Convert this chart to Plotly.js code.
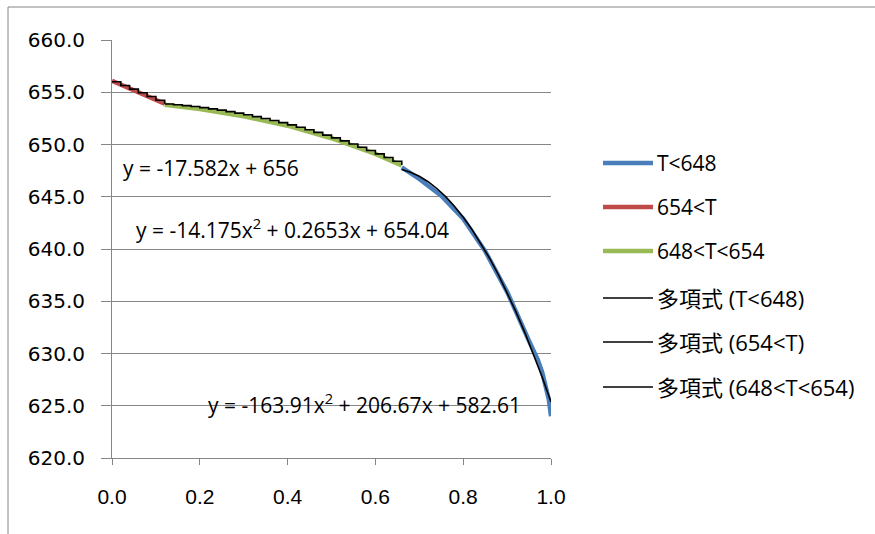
<!DOCTYPE html>
<html>
<head>
<meta charset="utf-8">
<script src="https://cdn.plot.ly/plotly-3.0.1.min.js"></script>
<style>
  html, body { margin: 0; padding: 0; background: #fff; }
  #chart { width: 875px; height: 534px; }
</style>
</head>
<body>
<div id="chart"></div>
<script>
// Measured series (normalised position vs. temperature)
const redX   = [0.00, 0.04, 0.08, 0.12];
const redY   = [656.1, 655.4, 654.6, 653.9];
const greenX = [0.12, 0.20, 0.30, 0.40, 0.50, 0.60, 0.66];
const greenY = [653.8, 653.4, 652.7, 651.8, 650.6, 649.1, 648.0];
const blueX  = [0.66, 0.70, 0.75, 0.80, 0.85, 0.90, 0.95, 0.97, 0.98, 0.99, 0.995, 1.00];
const blueY  = [647.8, 646.7, 645.1, 642.9, 639.8, 635.9, 631.2, 629.4, 628.2, 626.7, 625.6, 624.0];

// Polynomial trend lines
const trendRedX   = [0.00, 0.02, 0.04, 0.06, 0.08, 0.10, 0.12];
const trendRedY   = [656.00, 655.65, 655.30, 654.95, 654.59, 654.24, 653.89];
const trendGreenX = [0.12, 0.14, 0.16, 0.18, 0.20, 0.22, 0.24, 0.26, 0.28, 0.30, 0.32, 0.34, 0.36, 0.38,
                     0.40, 0.42, 0.44, 0.46, 0.48, 0.50, 0.52, 0.54, 0.56, 0.58, 0.60, 0.62, 0.64, 0.66];
const trendGreenY = [653.87, 653.80, 653.72, 653.63, 653.53, 653.41, 653.29, 653.15, 653.00, 652.84,
                     652.67, 652.49, 652.30, 652.09, 651.88, 651.65, 651.41, 651.16, 650.90, 650.63,
                     650.35, 650.05, 649.74, 649.43, 649.10, 648.76, 648.40, 648.04];
const trendBlueX  = [0.66, 0.68, 0.70, 0.72, 0.74, 0.76, 0.78, 0.80, 0.82, 0.84, 0.86, 0.88,
                     0.90, 0.92, 0.94, 0.96, 0.98, 1.00];
const trendBlueY  = [647.61, 647.35, 646.96, 646.44, 645.79, 645.01, 644.09, 643.04, 641.87, 640.56,
                     639.12, 637.55, 635.85, 634.01, 632.05, 629.95, 627.73, 625.37];

const seriesNames = ['T<648', '654<T', '648<T<654',
                     '多項式 (T<648)', '多項式 (654<T)', '多項式 (648<T<654)'];
const seriesColors = ['#4A7EBB', '#BE4B48', '#98B954', '#000000', '#000000', '#000000'];
const equations = ['y = -17.582x + 656',
                   'y = -14.175x<sup>2</sup> + 0.2653x + 654.04',
                   'y = -163.91x<sup>2</sup> + 206.67x + 582.61'];

// plot-area geometry in pixels
const W = 875, H = 534;
const PL = 112, PR = 551, PT = 40, PB = 458;
const px = v => (v - PL) / (PR - PL);
const py = v => (PB - v) / (PB - PT);

const thick = (x, y, i) => ({x, y, type: 'scatter', mode: 'lines', name: seriesNames[i],
  line: {color: seriesColors[i], width: 4.5}, showlegend: false, hoverinfo: 'skip'});
const thin = (x, y, i, shape) => ({x, y, type: 'scatter', mode: 'lines', name: seriesNames[i],
  line: {color: seriesColors[i], width: 1.6, shape}, showlegend: false, hoverinfo: 'skip'});

const data = [
  thick(blueX, blueY, 0),
  thick(redX, redY, 1),
  thick(greenX, greenY, 2),
  thin(trendBlueX, trendBlueY, 3, 'linear'),
  thin(trendRedX, trendRedY, 4, 'hv'),
  thin(trendGreenX, trendGreenY, 5, 'hv')
];

const fontFamily = '"Open Sans", "Noto Sans CJK TC", sans-serif';
const eqFont = {family: fontFamily, size: 21, color: '#000'};
const rowsY = [163, 207, 251, 298, 342, 387];

const shapes = [
  // chart frame
  {type: 'line', xref: 'paper', yref: 'paper', x0: px(8), x1: px(8), y0: py(7), y1: py(534),
   line: {color: '#868686', width: 1}},
  {type: 'line', xref: 'paper', yref: 'paper', x0: px(8), x1: px(875), y0: py(7), y1: py(7),
   line: {color: '#868686', width: 1}}
];
const annotations = [];
rowsY.forEach((yy, i) => {
  shapes.push({type: 'line', xref: 'paper', yref: 'paper', x0: px(603), x1: px(653),
    y0: py(yy), y1: py(yy),
    line: {color: seriesColors[i], width: i < 3 ? 4.5 : 1.6}});
  annotations.push({xref: 'paper', yref: 'paper', x: px(655), y: py(yy), xanchor: 'left',
    yanchor: 'middle', text: seriesNames[i], showarrow: false,
    font: {family: fontFamily, size: i < 3 ? 21 : 22, color: '#000'}});
});
[[0.021, 647.75], [0.05, 642.0], [0.213, 625.2]].forEach((p, i) => {
  annotations.push({xref: 'x', yref: 'y', x: p[0], y: p[1], xanchor: 'left', yanchor: 'middle',
    text: equations[i], showarrow: false, font: eqFont});
});

const layout = {
  width: W, height: H,
  margin: {l: PL, r: W - PR, t: PT, b: H - PB, pad: 0},
  paper_bgcolor: '#fff', plot_bgcolor: '#fff',
  showlegend: false,
  xaxis: {range: [0, 1], tickvals: [0, 0.2, 0.4, 0.6, 0.8, 1.0], tickformat: '.1f',
    showgrid: false, zeroline: false, showline: true, linecolor: '#868686', linewidth: 1,
    ticks: 'outside', ticklen: 6, tickcolor: '#868686', ticklabelstandoff: 14,
    tickfont: {family: '"Liberation Sans", Arial, sans-serif', size: 21, color: '#000'}},
  yaxis: {range: [620, 660], dtick: 5, tick0: 620, tickformat: '.1f',
    showgrid: true, gridcolor: '#868686', gridwidth: 1, zeroline: false,
    showline: true, linecolor: '#868686', linewidth: 1,
    ticks: 'outside', ticklen: 10, tickcolor: '#868686', ticklabelstandoff: 12,
    tickfont: {family: '"DejaVu Sans", Verdana, sans-serif', size: 20, color: '#000'}},
  shapes, annotations
};

Plotly.newPlot('chart', data, layout, {staticPlot: true, displayModeBar: false});
</script>
</body>
</html>
